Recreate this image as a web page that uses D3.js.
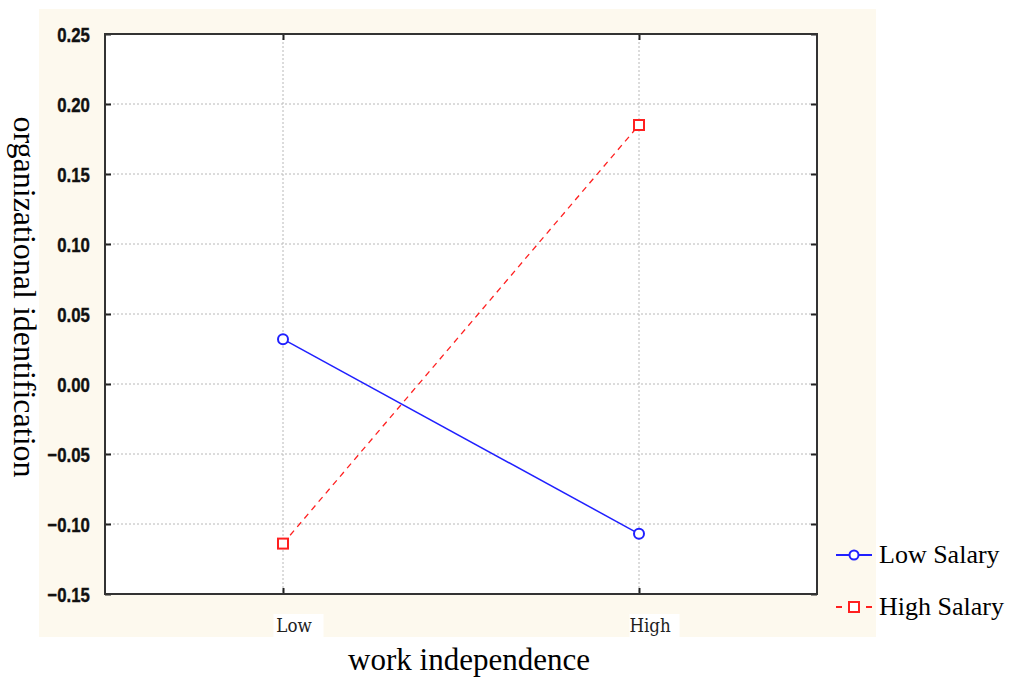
<!DOCTYPE html>
<html><head><meta charset="utf-8">
<script src="https://cdn.jsdelivr.net/npm/d3@7"></script>
<style>body{margin:0;background:#fff}svg{display:block}</style>
</head><body><svg id="c" width="1009" height="677"></svg>
<script>
const categories = ["Low", "High"];
const yTicks = [0.25, 0.20, 0.15, 0.10, 0.05, 0.00, -0.05, -0.10, -0.15];
const lowSalary = [0.032, -0.107];
const highSalary = [-0.114, 0.185];
const seriesNames = ["Low Salary", "High Salary"];

const svg = d3.select("#c");
const L = 105, R = 817, T = 34, B = 594;

svg.append("rect").attr("x", 39).attr("y", 9).attr("width", 837).attr("height", 628).attr("fill", "#fdf9ee");
svg.append("rect").attr("x", L).attr("y", T).attr("width", R - L).attr("height", B - T).attr("fill", "#fff");

const x = d3.scalePoint().domain(categories).range([L, R]).padding(0.5);
const y = d3.scaleLinear().domain([-0.15, 0.25]).range([B, T]);

// grid
svg.append("g").selectAll("line").data(yTicks.filter(t => t > -0.15 && t < 0.25)).join("line")
  .attr("x1", L).attr("x2", R).attr("y1", d => y(d)).attr("y2", d => y(d))
  .attr("stroke", "#b8b8b8").attr("stroke-width", 1).attr("stroke-dasharray", "2,2");
svg.append("g").selectAll("line").data(categories).join("line")
  .attr("x1", d => x(d)).attr("x2", d => x(d)).attr("y1", T).attr("y2", B)
  .attr("stroke", "#b8b8b8").attr("stroke-width", 1).attr("stroke-dasharray", "2,2");

// axes
const yAxis = d3.axisLeft(y).tickValues(yTicks).tickFormat(d3.format(".2f")).tickSizeInner(-6).tickSizeOuter(0).tickPadding(12);
const gy = svg.append("g").attr("transform", `translate(${L},0)`).call(yAxis);
gy.select(".domain").remove();
gy.selectAll("line").attr("stroke", "#222").attr("stroke-width", 2);
gy.selectAll("text").style("font-family", "'Liberation Sans', Arial, sans-serif").style("font-weight", "bold")
  .style("font-size", "21px").attr("fill", "#111").attr("stroke", "#111").attr("stroke-width", 0.4)
  .attr("transform", "scale(0.8,1)").attr("x", -19).attr("dy", "0.36em");

const gyr = svg.append("g").attr("transform", `translate(${R},0)`).call(d3.axisRight(y).tickValues(yTicks).tickSizeInner(-6).tickSizeOuter(0).tickFormat(""));
gyr.select(".domain").remove();
gyr.selectAll("line").attr("stroke", "#222").attr("stroke-width", 2);

const gx = svg.append("g").attr("transform", `translate(0,${B})`).call(d3.axisBottom(x).tickSizeInner(-6).tickSizeOuter(0).tickPadding(20));
gx.select(".domain").remove();
gx.selectAll("line").attr("stroke", "#222").attr("stroke-width", 2);
gx.selectAll(".tick").insert("rect", "text").attr("x", -10).attr("y", 20).attr("width", 50).attr("height", 24).attr("fill", "#fff");
gx.selectAll("text").style("font-family", "'DejaVu Serif', serif").style("font-size", "19px").attr("fill", "#222")
  .attr("transform", "scale(0.88,1)").attr("y", 38).attr("dy", 0).attr("dx", 12);

const gxt = svg.append("g").attr("transform", `translate(0,${T})`).call(d3.axisTop(x).tickSizeInner(-6).tickSizeOuter(0).tickFormat(""));
gxt.select(".domain").remove();
gxt.selectAll("line").attr("stroke", "#222").attr("stroke-width", 2);

svg.append("rect").attr("x", L).attr("y", T).attr("width", R - L).attr("height", B - T)
  .attr("fill", "none").attr("stroke", "#333").attr("stroke-width", 2);

// series
const line = d3.line().x((d, i) => x(categories[i])).y(d => y(d));
svg.append("path").datum(lowSalary).attr("d", line).attr("fill", "none").attr("stroke", "#2020ff").attr("stroke-width", 1.5);
svg.append("path").datum(highSalary).attr("d", line).attr("fill", "none").attr("stroke", "#ff2020").attr("stroke-width", 1.3).attr("stroke-dasharray", "6,5");
svg.append("g").selectAll("circle").data(lowSalary).join("circle")
  .attr("cx", (d, i) => x(categories[i])).attr("cy", d => y(d)).attr("r", 5)
  .attr("fill", "#fff").attr("stroke", "#2020ff").attr("stroke-width", 2);
svg.append("g").selectAll("rect").data(highSalary).join("rect")
  .attr("x", (d, i) => x(categories[i]) - 5).attr("y", d => y(d) - 5).attr("width", 10).attr("height", 10)
  .attr("fill", "#fff").attr("stroke", "#ff2020").attr("stroke-width", 2);

// axis titles
svg.append("text").attr("transform", "translate(14,297) rotate(90)").attr("text-anchor", "middle")
  .attr("font-family", "'Liberation Serif', 'Times New Roman', serif").attr("font-size", 32).attr("fill", "#000")
  .text("organizational identification");
svg.append("text").attr("x", 469).attr("y", 670).attr("text-anchor", "middle")
  .attr("font-family", "'Liberation Serif', 'Times New Roman', serif").attr("font-size", 31).attr("fill", "#000")
  .text("work independence");

// legend
const lg = svg.append("g");
lg.append("line").attr("x1", 836).attr("x2", 872).attr("y1", 555).attr("y2", 555).attr("stroke", "#2020ff").attr("stroke-width", 2);
lg.append("circle").attr("cx", 854).attr("cy", 555).attr("r", 4.5).attr("fill", "#fff").attr("stroke", "#2020ff").attr("stroke-width", 2);
lg.append("line").attr("x1", 836).attr("x2", 872).attr("y1", 607).attr("y2", 607).attr("stroke", "#ff2020").attr("stroke-width", 2).attr("stroke-dasharray", "6,24");
lg.append("line").attr("x1", 866).attr("x2", 872).attr("y1", 607).attr("y2", 607).attr("stroke", "#ff2020").attr("stroke-width", 2);
lg.append("rect").attr("x", 849).attr("y", 602).attr("width", 10).attr("height", 10).attr("fill", "#fff").attr("stroke", "#ff2020").attr("stroke-width", 2);
lg.selectAll("text").data(seriesNames).join("text")
  .attr("x", 879).attr("y", (d, i) => 563 + i * 52)
  .attr("font-family", "'Liberation Serif', 'Times New Roman', serif").attr("font-size", 26).attr("fill", "#000")
  .text(d => d);
</script></body></html>
